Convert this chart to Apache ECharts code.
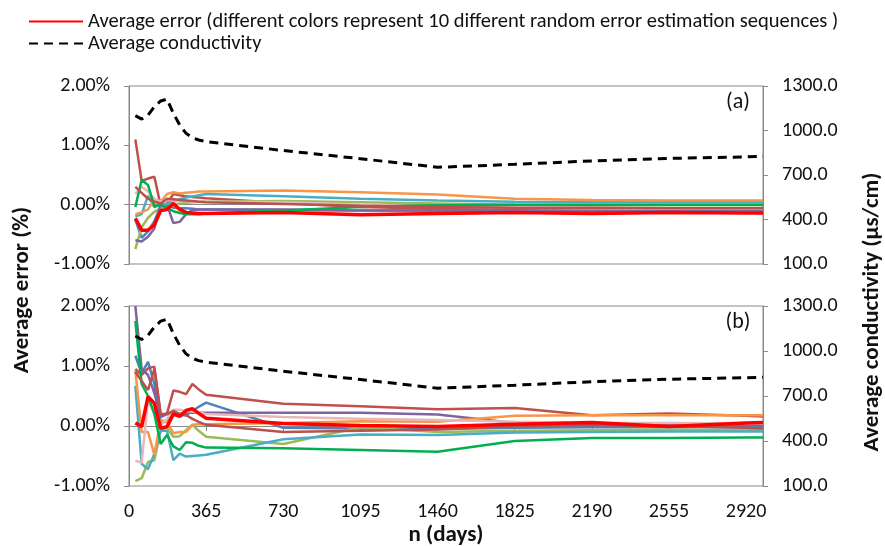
<!DOCTYPE html>
<html lang="en">
<head>
    <meta charset="UTF-8">
    <title>Average error and conductivity</title>
    <script src="https://cdn.jsdelivr.net/npm/echarts@6/dist/echarts.min.js"></script>
    <style>
        html, body { margin: 0; padding: 0; background: #fff; }
        #chart { width: 885px; height: 546px; }
    </style>
</head>
<body>
<div id="chart"></div>
<script>
    // x values (days) shared by every line
    var days = [30, 60, 90, 120, 150, 180, 210, 240, 270, 300, 330, 365, 730, 1095, 1460, 1825, 2190, 2555, 2920, 3000];
    var xTicks = [0, 365, 730, 1095, 1460, 1825, 2190, 2555, 2920];

    // average conductivity (µs/cm), same in both panels
    var conductivity = [1100, 1077, 1104, 1160, 1199, 1212, 1116, 1037, 981, 951, 936, 925, 865, 810, 752, 772, 795, 812, 822, 825];

    // panel (a) error sequences, %
    var a1 = [-0.25, -0.56, -0.45, -0.28, -0.02, -0.02, -0.05, -0.06, -0.06, -0.07, -0.08, -0.08, -0.09, -0.1, -0.1, -0.08, -0.07, -0.07, -0.06, -0.06];
    var a2 = [1.10, 0.40, 0.44, 0.47, -0.02, 0.02, 0.18, 0.16, 0.14, 0.13, 0.12, 0.11, 0.03, -0.04, -0.07, -0.06, -0.06, -0.07, -0.07, -0.07];
    var a3 = [-0.75, -0.38, -0.22, -0.12, -0.06, -0.02, 0.0, 0.02, 0.03, 0.04, 0.05, 0.05, 0.06, 0.04, 0.02, 0.0, -0.01, -0.01, -0.01, -0.01];
    var a4 = [-0.6, -0.62, -0.54, -0.4, 0.02, 0.0, -0.31, -0.29, -0.16, -0.09, -0.08, -0.08, -0.08, -0.1, -0.1, -0.11, -0.11, -0.11, -0.1, -0.1];
    var a5 = [-0.2, -0.16, 0.15, -0.04, 0.01, 0.01, 0.06, 0.09, 0.12, 0.14, 0.16, 0.18, 0.14, 0.1, 0.07, 0.05, 0.04, 0.04, 0.04, 0.04];
    var a6 = [-0.16, -0.13, -0.08, 0.08, 0.05, 0.18, 0.21, 0.19, 0.2, 0.21, 0.22, 0.22, 0.24, 0.21, 0.17, 0.1, 0.08, 0.07, 0.07, 0.07];
    var a7 = [0.18, 0.3, 0.22, 0.1, 0.05, 0.08, 0.07, 0.06, 0.06, 0.05, 0.05, 0.05, 0.04, 0.0, -0.03, -0.05, -0.06, -0.07, -0.07, -0.07];
    var a8 = [-0.04, 0.42, 0.33, -0.03, 0.0, -0.06, -0.11, -0.14, -0.16, -0.16, -0.16, -0.15, -0.1, -0.04, -0.01, 0.0, 0.0, 0.0, 0.0, 0.0];
    var a9 = [0.3, 0.2, 0.1, 0.05, 0.02, 0.1, 0.09, 0.08, 0.07, 0.06, 0.05, 0.04, 0.01, -0.02, -0.04, -0.05, -0.05, -0.06, -0.06, -0.06];
    var a10 = [-0.23, -0.43, -0.43, -0.34, -0.1, -0.08, 0.02, -0.08, -0.13, -0.14, -0.15, -0.15, -0.13, -0.17, -0.15, -0.13, -0.15, -0.13, -0.14, -0.14];

    // panel (b) error sequences, %
    var b1 = [1.17, 0.88, 1.07, 0.7, 0.03, 0.1, 0.2, 0.18, 0.18, 0.25, 0.32, 0.39, -0.03, -0.04, -0.05, -0.03, -0.02, -0.02, -0.02, -0.02];
    var b2 = [0.95, 0.85, 0.96, 0.99, 0.18, 0.21, 0.59, 0.57, 0.53, 0.7, 0.61, 0.52, 0.37, 0.33, 0.28, 0.3, 0.18, 0.21, 0.17, 0.16];
    var b3 = [-0.92, -0.87, -0.6, -0.57, -0.07, -0.03, -0.18, -0.17, -0.07, 0.02, -0.08, -0.18, -0.3, -0.02, -0.1, -0.08, -0.07, -0.06, -0.07, -0.07];
    var b4 = [2.0, 0.95, 0.85, 0.55, 0.15, 0.2, 0.22, 0.2, 0.22, 0.22, 0.22, 0.22, 0.22, 0.22, 0.19, 0.05, 0.03, 0.02, 0.02, 0.02];
    var b5 = [0.67, -0.63, -0.72, -0.46, -0.08, -0.08, -0.57, -0.46, -0.51, -0.5, -0.49, -0.48, -0.22, -0.14, -0.15, -0.11, -0.1, -0.09, -0.09, -0.09];
    var b6 = [0.92, -0.1, -0.1, -0.48, 0.1, 0.06, -0.12, -0.1, -0.1, 0.02, 0.03, 0.03, 0.05, 0.08, 0.07, 0.17, 0.18, 0.18, 0.18, 0.18];
    var b7 = [-0.58, -0.61, 0.43, 0.21, 0.0, 0.12, 0.27, 0.27, 0.25, 0.24, 0.22, 0.2, 0.15, 0.12, 0.1, 0.07, 0.05, 0.05, 0.04, 0.04];
    var b8 = [1.75, 0.7, 0.5, 0.2, -0.3, -0.15, -0.34, -0.4, -0.27, -0.28, -0.33, -0.36, -0.37, -0.4, -0.43, -0.25, -0.2, -0.2, -0.19, -0.19];
    var b9 = [0.9, 0.75, 0.6, 0.95, 0.2, 0.2, 0.25, 0.2, 0.18, 0.12, 0.07, 0.02, -0.1, -0.08, -0.06, 0.0, 0.02, 0.0, -0.03, -0.04];
    var b10 = [0.05, -0.01, 0.49, 0.38, -0.04, -0.01, 0.2, 0.16, 0.26, 0.29, 0.21, 0.13, 0.04, 0.01, -0.01, 0.03, 0.06, -0.01, 0.05, 0.06];

    var seqColors = ['#4F81BD', '#C0504D', '#9BBB59', '#8064A2', '#4BACC6', '#F79646', '#E6B9B8', '#00B050', '#B9514E', '#FF0000'];
    var errName = 'Average error (different colors represent 10 different random error estimation sequences )';
    var condName = 'Average conductivity';

    var font = 'Carlito, Lato, "Open Sans", sans-serif';
    var axisGray = '#898989';

    function pairs(vals) {
        var out = [];
        for (var i = 0; i < days.length; i++) out.push([days[i], vals[i]]);
        return out;
    }

    var myChart = echarts.init(document.getElementById('chart'));

    var series = [];
    function addPanel(seqs, idx) {
        for (var i = 0; i < seqs.length; i++) {
            var isRed = i === seqs.length - 1;
            series.push({
                name: isRed ? errName : 'seq' + (i + 1),
                type: 'line',
                xAxisIndex: idx,
                yAxisIndex: idx * 2,
                symbol: 'none',
                silent: true,
                data: pairs(seqs[i]),
                lineStyle: { color: seqColors[i], width: isRed ? 3.5 : 2.5 },
                itemStyle: { color: seqColors[i] }
            });
        }
        series.push({
            name: condName,
            type: 'line',
            xAxisIndex: idx,
            yAxisIndex: idx * 2 + 1,
            symbol: 'none',
            silent: true,
            data: pairs(conductivity),
            lineStyle: { color: '#000', width: 3, type: [9, 6] },
            itemStyle: { color: '#000' }
        });
    }
    addPanel([a1, a2, a3, a4, a5, a6, a7, a8, a9, a10], 0);
    addPanel([b1, b2, b3, b4, b5, b6, b7, b8, b9, b10], 1);

    function xAxis(idx, showLabels) {
        return {
            type: 'value', gridIndex: idx, min: 0, max: 3000, interval: 365,
            axisLine: { show: true, lineStyle: { color: axisGray } },
            axisTick: { show: showLabels, length: 5, lineStyle: { color: axisGray } },
            axisLabel: {
                show: showLabels, margin: 16, color: '#111', fontSize: 20, fontFamily: font,
                showMaxLabel: false,
                formatter: function (v) { return xTicks.indexOf(v) >= 0 ? String(v) : ''; }
            },
            splitLine: { show: false }
        };
    }
    function leftAxis(idx) {
        return {
            type: 'value', gridIndex: idx, min: -1, max: 2, interval: 1,
            axisLine: { show: true, lineStyle: { color: axisGray } },
            axisTick: { show: true, length: 5, lineStyle: { color: axisGray } },
            axisLabel: { margin: 19, color: '#111', fontSize: 20, fontFamily: font,
                formatter: function (v) { return v.toFixed(2) + '%'; } },
            splitLine: { show: false }
        };
    }
    function rightAxis(idx) {
        return {
            type: 'value', gridIndex: idx, position: 'right', min: 100, max: 1300, interval: 300,
            axisLine: { show: true, lineStyle: { color: axisGray } },
            axisTick: { show: true, length: 5, lineStyle: { color: axisGray } },
            axisLabel: { margin: 19, color: '#111', fontSize: 20, fontFamily: font,
                formatter: function (v) { return v.toFixed(1); } },
            splitLine: { show: false }
        };
    }

    var option = {
        animation: false,
        backgroundColor: '#fff',
        legend: {
            orient: 'vertical',
            left: 23, top: 6,
            itemWidth: 54, itemHeight: 14, itemGap: 1,
            selectedMode: false,
            itemStyle: { opacity: 0 },
            data: [errName, condName],
            textStyle: { color: '#111', fontSize: 20.5, lineHeight: 18, fontFamily: font }
        },
        grid: [
            { left: 129, right: 122, top: 86, height: 178, show: true, borderColor: axisGray, borderWidth: 1 },
            { left: 129, right: 122, top: 306, height: 180, show: true, borderColor: axisGray, borderWidth: 1 }
        ],
        xAxis: [xAxis(0, false), xAxis(1, true)],
        yAxis: [leftAxis(0), rightAxis(0), leftAxis(1), rightAxis(1)],
        graphic: [
            { type: 'text', x: 738, y: 102, style: { text: '(a)', fill: '#111', fontSize: 22, fontFamily: font, textAlign: 'center', textVerticalAlign: 'middle' } },
            { type: 'text', x: 738, y: 322, style: { text: '(b)', fill: '#111', fontSize: 22, fontFamily: font, textAlign: 'center', textVerticalAlign: 'middle' } },
            { type: 'text', x: 446, y: 535, style: { text: 'n (days)', fill: '#111', fontSize: 23, fontWeight: 'bold', fontFamily: font, textAlign: 'center', textVerticalAlign: 'middle' } },
            { type: 'text', x: 22, y: 290, rotation: Math.PI / 2, style: { text: 'Average error (%)', fill: '#111', fontSize: 23, fontWeight: 'bold', fontFamily: font, textAlign: 'center', textVerticalAlign: 'middle' } },
            { type: 'text', x: 872, y: 312, rotation: Math.PI / 2, style: { text: 'Average conductivity (µs/cm)', fill: '#111', fontSize: 23, fontWeight: 'bold', fontFamily: font, textAlign: 'center', textVerticalAlign: 'middle' } }
        ],
        series: series
    };

    myChart.setOption(option);
</script>
</body>
</html>
